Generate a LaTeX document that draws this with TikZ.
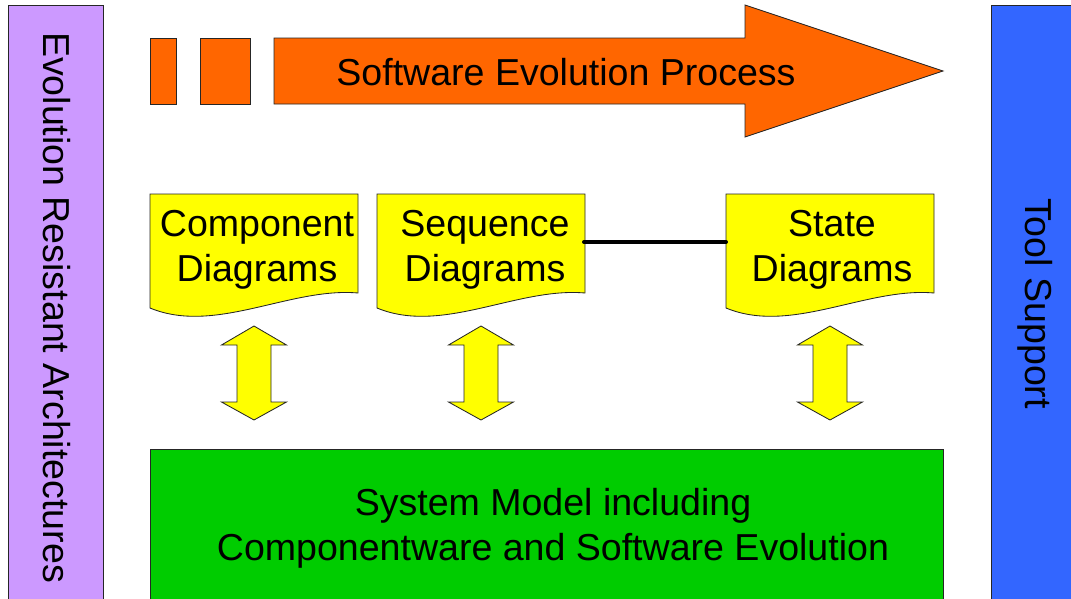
\documentclass[tikz,border=0pt]{standalone}
\usepackage{fontspec}
\setmainfont{Liberation Sans}
\usetikzlibrary{calc}

\definecolor{lila}{HTML}{CC99FF}
\definecolor{toolblue}{HTML}{3366FF}
\definecolor{prozess}{HTML}{FF6600}
\definecolor{docgelb}{HTML}{FFFF00}
\definecolor{modellgruen}{HTML}{00CC00}

\tikzset{
    outline/.style={draw=black!85, line width=0.6pt},
    lbl/.style={inner sep=0pt, align=center, font=\fontsize{26.7}{32}\selectfont},
}

\begin{document}
\begin{tikzpicture}[
    x=0.025cm,
    y=-0.025cm
]

\useasboundingbox (0,0) rectangle (1071,598);
\clip (0,0) rectangle (1071,598);

% --- Seitenbalken ---
\filldraw[outline, fill=lila] (8,5) rectangle (103,610);
\node[lbl, rotate=-90] (era) at (56.5,307.5) {Evolution Resistant Architectures};

\filldraw[outline, fill=toolblue] (991,5) rectangle (1080,610);
\node[lbl, rotate=-90] (tools) at (1035,303.5) {Tool Support};

% --- Prozesspfeil ---
\filldraw[outline, fill=prozess] (150,38) rectangle (176,104);
\filldraw[outline, fill=prozess] (200,38) rectangle (250,104);
\filldraw[outline, fill=prozess]
(274,38) -- (745,38) -- (745,5) -- (943,71) -- (745,137) -- (745,104) -- (274,104) -- cycle;
\node[lbl] (proc) at (566,72) {Software Evolution Process};

% --- Diagramm-Dokumente ---
\foreach \x in {150,377,726} {
    \filldraw[outline, fill=docgelb]
    (\x,194) -- (\x+208,194) -- (\x+208,293)
    .. controls +(-68,-6) and +(65,27) .. (\x,308) -- cycle;
}
\node[lbl] (comp) at (257,250) {Component\\Diagrams};
\node[lbl] (seq) at (485,250) {Sequence\\Diagrams};
\node[lbl] (state) at (832,250) {State\\Diagrams};

% Verbindung Sequence - State
\coordinate (seqE) at (584,242);
\coordinate (stateW) at (726,242);
\draw[line width=2.8pt, line cap=round] (seqE) -- (stateW);

% --- Doppelpfeile ---
\foreach \c in {254,481,830} {
    \filldraw[outline, fill=docgelb]
    (\c,326) -- (\c+32.5,345) -- (\c+17,345) -- (\c+17,402) -- (\c+32.5,402)
    -- (\c,420) -- (\c-32.5,402) -- (\c-17,402) -- (\c-17,345) -- (\c-32.5,345) -- cycle;
}

% --- Systemmodell ---
\filldraw[outline, fill=modellgruen] (150,449) rectangle (943,610);
\node[lbl] (model) at (553,528) {System Model including\\Componentware and Software Evolution};

\end{tikzpicture}
\end{document}
